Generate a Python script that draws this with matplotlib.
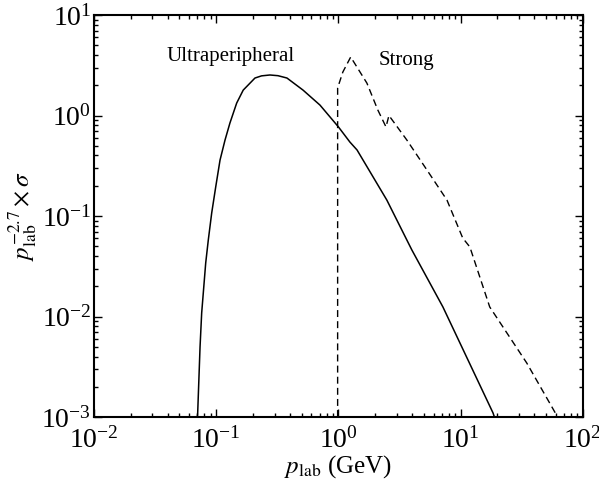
import matplotlib
matplotlib.use('Agg')
import matplotlib.pyplot as plt
from matplotlib.ticker import LogLocator, NullFormatter

plt.rcParams['font.family'] = ['Liberation Serif', 'DejaVu Serif']
plt.rcParams['mathtext.fontset'] = 'stix'

# Ultraperipheral curve (solid)
ultra_p = [0.0700, 0.0705, 0.0737, 0.0760, 0.0820, 0.0861, 0.0918, 0.0990,
           0.1074, 0.118, 0.1294, 0.147, 0.1663, 0.2075, 0.235, 0.275, 0.32,
           0.379, 0.513, 0.706, 1.0, 1.24, 1.42, 2.49, 3.63, 3.99, 7.16,
           18.4, 18.9]
ultra_s = [0.001, 0.0011, 0.00498, 0.01084, 0.0341, 0.0577, 0.1072, 0.1944,
           0.360, 0.570, 0.841, 1.33, 1.79, 2.36, 2.48, 2.53, 2.49,
           2.36, 1.79, 1.27, 0.77, 0.545, 0.454, 0.144, 0.0577, 0.0459, 0.01245,
           0.0011, 0.001]

# Strong curve (dashed)
strong_p = [0.985, 0.985, 1.087, 1.26, 1.71, 2.10, 2.45, 2.59, 3.63, 5.30,
            7.73, 10.4, 11.9, 17.3, 34.8, 59.0, 60.0]
strong_s = [0.001, 1.88, 2.71, 3.82, 2.10, 1.135, 0.77, 1.0, 0.57, 0.287,
            0.144, 0.0604, 0.0492, 0.01245, 0.00344, 0.00112, 0.001]

fig = plt.figure(figsize=(5.99, 4.87), dpi=100)
ax = fig.add_axes([0.157, 0.1437, 0.816, 0.8255])

ax.plot(ultra_p, ultra_s, color='black', lw=1.1)
ax.plot(strong_p, strong_s, color='black', lw=1.0, linestyle=(0, (5, 3)))

ax.set_xscale('log')
ax.set_yscale('log')
ax.set_xlim(1e-2, 1e2)
ax.set_ylim(1e-3, 1e1)

ax.text(0.132, 3.9, 'Ultraperipheral', fontsize=15, ha='center', va='center')
ax.text(3.6, 3.5, 'Strong', fontsize=15, ha='center', va='center')

ax.set_xlabel(r'$p_{\rm lab}$ (GeV)', fontsize=18, labelpad=0)
ax.set_ylabel(r'$p_{\rm lab}^{-2.7}\times\sigma$', fontsize=18, labelpad=2)

ax.xaxis.set_major_locator(LogLocator(base=10, numticks=10))
ax.yaxis.set_major_locator(LogLocator(base=10, numticks=10))
ax.xaxis.set_minor_locator(LogLocator(base=10, subs=range(2, 10), numticks=10))
ax.yaxis.set_minor_locator(LogLocator(base=10, subs=range(2, 10), numticks=10))
ax.xaxis.set_minor_formatter(NullFormatter())
ax.yaxis.set_minor_formatter(NullFormatter())

ax.tick_params(which='both', direction='in', top=True, right=True, width=1.0)
ax.tick_params(which='major', length=6, labelsize=20)
ax.tick_params(axis='x', which='major', pad=7)
ax.tick_params(axis='y', which='major', pad=2)
ax.tick_params(which='minor', length=3)
for s in ax.spines.values():
    s.set_linewidth(1.5)

plt.savefig('out.png', dpi=100)
